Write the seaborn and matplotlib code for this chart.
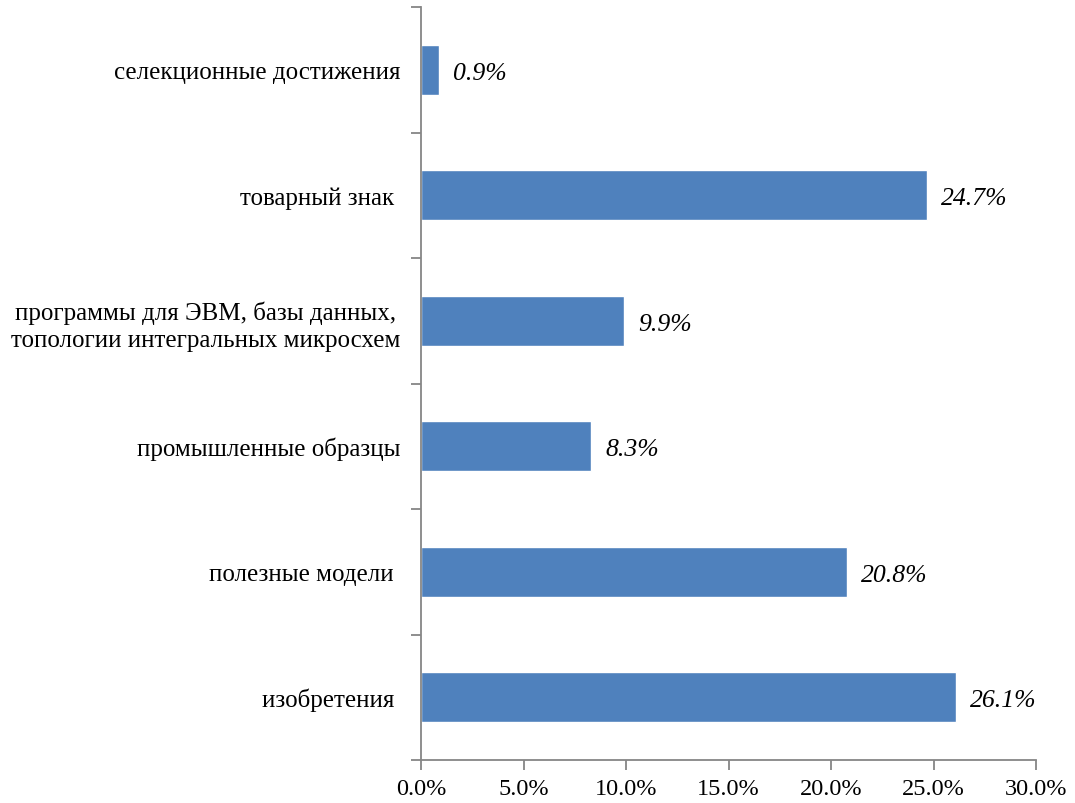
import matplotlib
matplotlib.use("Agg")
import matplotlib.pyplot as plt
import seaborn as sns
import pandas as pd
import numpy as np

categories = [
    "селекционные достижения",
    "товарный знак ",
    "программы для ЭВМ, базы данных,\nтопологии интегральных микросхем",
    "промышленные образцы",
    "полезные модели ",
    "изобретения ",
]
shares = [0.9, 24.7, 9.9, 8.3, 20.8, 26.1]
x_ticks = [0, 5, 10, 15, 20, 25, 30]

sns.set_theme(style="white")
plt.rcParams["font.family"] = ["Liberation Serif", "DejaVu Serif"]
plt.rcParams["text.color"] = "black"
plt.rcParams["xtick.labelcolor"] = "black"
plt.rcParams["ytick.labelcolor"] = "black"

df = pd.DataFrame({"category": categories, "share": shares})

fig = plt.figure(figsize=(10.75, 8.04), dpi=100)
ax = fig.add_axes([421 / 1075, 1 - 761 / 804, (1036 - 421) / 1075, (761 - 8) / 804])

sns.barplot(data=df, x="share", y="category", orient="h", color="#4F81BD",
            saturation=1, width=0.4, ax=ax)

ax.set_xlim(0, 30)
ax.set_ylim(len(categories) - 0.5, -0.5)
ax.set_xticks(x_ticks)
ax.set_xticklabels([f"{t:.1f}%" for t in x_ticks], fontsize=17.5)
ax.set_xlabel("")
ax.set_ylabel("")

for lbl in ax.get_yticklabels():
    lbl.set_multialignment("center")
    lbl.set_fontsize(18)
    lbl.set_linespacing(1.3)

ax.set_yticks(np.arange(-0.5, len(categories), 1), minor=True)
ax.tick_params(axis="y", which="major", length=0, pad=15)
ax.tick_params(axis="y", which="minor", left=True, length=7, width=1.3, color="#868686")
ax.tick_params(axis="x", which="major", bottom=True, length=7, width=1.3, color="#868686", pad=6)

for side in ["top", "right"]:
    ax.spines[side].set_visible(False)
for side in ["left", "bottom"]:
    ax.spines[side].set_color("#868686")
    ax.spines[side].set_linewidth(1.3)

for i, v in enumerate(shares):
    ax.annotate(f"{v:.1f}%", xy=(v, i), xytext=(10, -2), textcoords="offset points",
                ha="left", va="center", fontsize=18.5, style="italic")

fig.savefig("out.png", dpi=100, facecolor="white")
